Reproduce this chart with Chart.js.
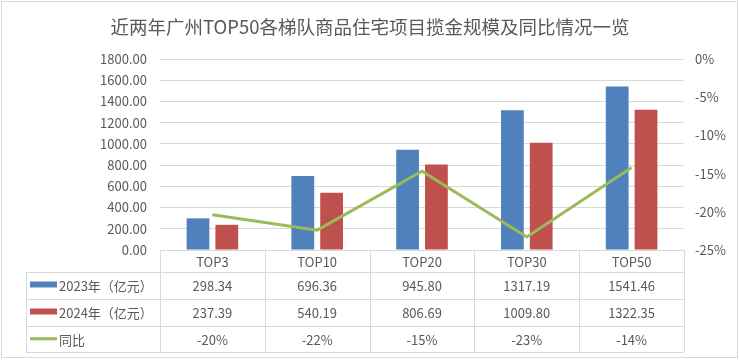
<!DOCTYPE html>
<html><head><meta charset="utf-8">
<script src="https://cdn.jsdelivr.net/npm/chart.js@4"></script>
<style>html,body{margin:0;padding:0;background:#fff}#wrap{width:740px;height:361px;position:relative}</style>
</head><body><div id="wrap"><canvas id="c" width="740" height="361"></canvas></div>
<script>
const categories = ['TOP3','TOP10','TOP20','TOP30','TOP50'];
const values2023 = [298.34, 696.36, 945.80, 1317.19, 1541.46];
const values2024 = [237.39, 540.19, 806.69, 1009.80, 1322.35];
const yoyPct = [-20.4, -22.4, -14.7, -23.3, -14.2];
const yoyLabels = ['-20%','-22%','-15%','-23%','-14%'];
const seriesNames = ['2023年（亿元）','2024年（亿元）','同比'];
const titleText = '近两年广州TOP50各梯队商品住宅项目揽金规模及同比情况一览';

const FONT = '"Noto Sans CJK SC", "Noto Sans", sans-serif';
const TXT = '#595959';
const GRID = '#d9d9d9';
const COLORS = ['#4F81BD','#C0504D','#9BBB59'];

const tablePlugin = {
  id: 'dataTable',
  afterDraw(chart) {
    const ctx = chart.ctx, ca = chart.chartArea, xs = chart.scales.x;
    const left = ca.left, right = ca.right, legL = 26;
    const rows = [ca.bottom, 271.5, 298.5, 325.5, 352];
    ctx.save();
    ctx.strokeStyle = GRID; ctx.lineWidth = 1;
    ctx.strokeRect(1.5, 1.5, 736, 356);
    ctx.beginPath();
    ctx.moveTo(left, Math.round(rows[0]) + 0.5); ctx.lineTo(right, Math.round(rows[0]) + 0.5);
    for (let r = 1; r < rows.length; r++) {
      const y = Math.round(rows[r]) + 0.5;
      ctx.moveTo(legL, y); ctx.lineTo(right, y);
    }
    const n = categories.length, w = (right - left) / n;
    for (let i = 0; i <= n; i++) {
      const x = Math.round(left + i * w) + 0.5;
      ctx.moveTo(x, rows[0]); ctx.lineTo(x, rows[4]);
    }
    const lx = legL + 0.5;
    ctx.moveTo(lx, rows[1]); ctx.lineTo(lx, rows[4]);
    ctx.stroke();

    ctx.fillStyle = TXT;
    ctx.font = '13px ' + FONT;
    ctx.textAlign = 'center'; ctx.textBaseline = 'middle';
    const mids = [];
    for (let r = 0; r < 4; r++) mids.push((rows[r] + rows[r + 1]) / 2);
    categories.forEach((c, i) => {
      const cx = xs.getPixelForValue(i);
      ctx.fillText(c, cx, mids[0] + 1);
      ctx.fillText(values2023[i].toFixed(2), cx, mids[1] + 1);
      ctx.fillText(values2024[i].toFixed(2), cx, mids[2] + 1);
      ctx.fillText(yoyLabels[i], cx, mids[3] + 1);
    });
    ctx.textAlign = 'left';
    for (let s = 0; s < 3; s++) {
      const y = mids[s + 1];
      ctx.fillStyle = COLORS[s];
      if (s < 2) ctx.fillRect(30, y - 3.5, 27, 6);
      else ctx.fillRect(30, y - 1.5, 27, 3);
      ctx.fillStyle = TXT;
      ctx.fillText(seriesNames[s], 59, y + 1);
    }
    ctx.restore();
  }
};

new Chart(document.getElementById('c'), {
  data: {
    labels: categories,
    datasets: [
      { type: 'line', label: seriesNames[2], data: yoyPct, yAxisID: 'y2', borderColor: COLORS[2], borderWidth: 3, pointRadius: 0, tension: 0, order: 0 },
      { type: 'bar', label: seriesNames[0], data: values2023, yAxisID: 'y', backgroundColor: COLORS[0], categoryPercentage: 0.55, barPercentage: 0.79, order: 1 },
      { type: 'bar', label: seriesNames[1], data: values2024, yAxisID: 'y', backgroundColor: COLORS[1], categoryPercentage: 0.55, barPercentage: 0.79, order: 1 }
    ]
  },
  options: {
    responsive: false, animation: false, devicePixelRatio: 1,
    layout: { padding: { left: 0, right: 0, top: 0, bottom: 111 } },
    plugins: {
      legend: { display: false }, tooltip: { enabled: false },
      title: { display: true, text: titleText, color: TXT, font: { family: FONT, size: 18.5, weight: 'normal' }, padding: { top: 16, bottom: 20.8 } }
    },
    scales: {
      x: { display: false },
      y: {
        position: 'left', min: 0, max: 1800,
        ticks: { stepSize: 200, color: TXT, padding: 13, font: { family: FONT, size: 13 }, callback: v => Number(v).toFixed(2) },
        grid: { color: GRID, drawTicks: false }, border: { display: false },
        afterFit: s => { s.width = 160; }
      },
      y2: {
        position: 'right', min: -25, max: 0,
        ticks: { stepSize: 5, color: TXT, padding: 11, font: { family: FONT, size: 13 }, callback: v => v + '%' },
        grid: { display: false, drawTicks: false }, border: { display: false },
        afterFit: s => { s.width = 56; }
      }
    }
  },
  plugins: [tablePlugin]
});
</script></body></html>
